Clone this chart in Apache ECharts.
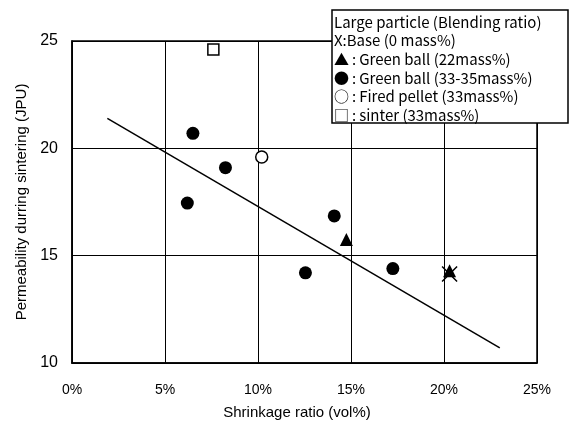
<!DOCTYPE html>
<html>
<head>
<meta charset="utf-8">
<script src="https://cdn.jsdelivr.net/npm/echarts@6/dist/echarts.min.js"></script>
<style>html,body{margin:0;padding:0;background:#fff}#c{width:570px;height:425px}</style>
</head>
<body>
<div id="c"></div>
<script>
// Data (x: shrinkage ratio %, y: permeability JPU)
var baseX = [[20.3, 14.15]];
var greenBall22 = [[14.75, 15.75], [20.3, 14.3]];
var greenBall33 = [[6.5, 20.7], [8.25, 19.1], [6.2, 17.45], [14.1, 16.85], [12.55, 14.2], [17.25, 14.4]];
var firedPellet = [[10.2, 19.6]];
var sinter = [[7.6, 24.6]];
var trendLine = [[1.9, 21.4], [23.0, 10.7]];
var xTicks = [0, 5, 10, 15, 20, 25];
var yTicks = [10, 15, 20, 25];
var legendLines = [
  'Large particle (Blending ratio)',
  'X:Base (0 mass%)',
  '\u25B2\u2009:\u2009Green ball (22mass%)',
  '\u25CF\u2009:\u2009Green ball (33-35mass%)',
  '\u25CB\u2009:\u2009Fired pellet (33mass%)',
  '\u25A1\u2009:\u2009sinter (33mass%)'
];

var FONT = 'Liberation Sans';
var chart = echarts.init(document.getElementById('c'), null, {renderer: 'canvas'});
var legendChildren = [{
  type: 'rect', z: 100,
  shape: {x: 0, y: 0, width: 236, height: 113},
  style: {fill: '#fff', stroke: '#000', lineWidth: 1.5}
}];
legendLines.forEach(function (t, i) {
  legendChildren.push({
    type: 'text', z: 101,
    x: 2, y: 12 + i * 18.6,
    style: {text: t, font: '15px "Noto Sans CJK JP"', fill: '#000', textVerticalAlign: 'middle'}
  });
});

chart.setOption({
  animation: false,
  backgroundColor: '#fff',
  grid: {left: 72, top: 41, right: 33, bottom: 62, show: true, borderColor: '#000', borderWidth: 1.5},
  xAxis: {
    type: 'value', min: xTicks[0], max: xTicks[xTicks.length - 1], interval: 5,
    name: 'Shrinkage ratio (vol%)', nameLocation: 'middle', nameGap: 42,
    nameTextStyle: {fontFamily: FONT, fontSize: 15, color: '#000', padding: [0, 15, 0, 0]},
    axisLine: {show: true, lineStyle: {color: '#000', width: 1.5}},
    axisTick: {show: false},
    axisLabel: {formatter: '{value}%', fontFamily: FONT, fontSize: 14, color: '#000', margin: 20},
    splitLine: {show: true, lineStyle: {color: '#000', width: 1}}
  },
  yAxis: {
    type: 'value', min: yTicks[0], max: yTicks[yTicks.length - 1], interval: 5,
    name: 'Permeability durring sintering (JPU)', nameLocation: 'middle', nameGap: 42, nameRotate: 90,
    nameTextStyle: {fontFamily: FONT, fontSize: 15, color: '#000'},
    axisLine: {show: true, lineStyle: {color: '#000', width: 1.5}},
    axisTick: {show: false},
    axisLabel: {fontFamily: FONT, fontSize: 16, color: '#000', margin: 14},
    splitLine: {show: true, lineStyle: {color: '#000', width: 1}}
  },
  graphic: [{type: 'group', x: 332, y: 10, z: 100, children: legendChildren}],
  series: [
    {type: 'line', data: trendLine, showSymbol: false, symbol: 'none',
     lineStyle: {color: '#000', width: 1.5}, z: 1},
    {type: 'scatter', name: 'Base', data: baseX, symbol: 'path://M0,0L10,10M10,0L0,10', symbolSize: 15,
     itemStyle: {color: 'none', borderColor: '#000', borderWidth: 1.5, opacity: 1}, z: 2},
    {type: 'scatter', name: 'Green ball 22', data: greenBall22, symbol: 'triangle', symbolSize: 13,
     itemStyle: {color: '#000', opacity: 1}, z: 3},
    {type: 'scatter', name: 'Green ball 33-35', data: greenBall33, symbol: 'circle', symbolSize: 13,
     itemStyle: {color: '#000', opacity: 1}, z: 3},
    {type: 'scatter', name: 'Fired pellet', data: firedPellet, symbol: 'circle', symbolSize: 12,
     itemStyle: {color: '#fff', borderColor: '#000', borderWidth: 1.5, opacity: 1}, z: 3},
    {type: 'scatter', name: 'sinter', data: sinter, symbol: 'rect', symbolSize: 11,
     itemStyle: {color: '#fff', borderColor: '#000', borderWidth: 1.5, opacity: 1}, z: 3}
  ]
});
</script>
</body>
</html>
